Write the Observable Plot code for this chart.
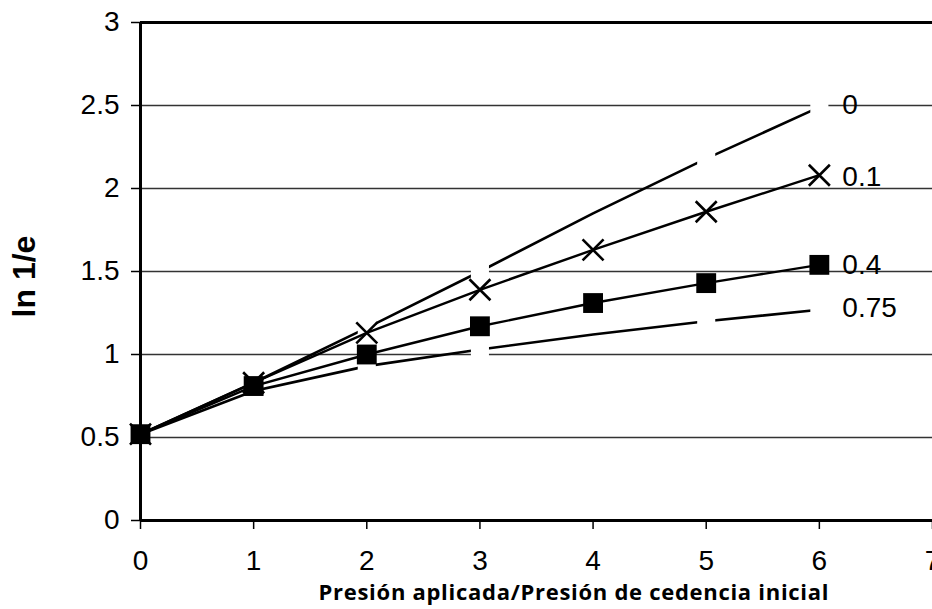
<!DOCTYPE html>
<html>
<head>
<meta charset="utf-8">
<script src="https://cdn.jsdelivr.net/npm/d3@7"></script>
<script src="https://cdn.jsdelivr.net/npm/@observablehq/plot@0.6"></script>
<style>
  html, body { margin: 0; padding: 0; background: #fff; }
</style>
</head>
<body>
<div id="chart"></div>
<script>
// ---- data ----
const xVals = [0, 1, 2, 3, 4, 5, 6];
const series0 = [0.52, 0.83, 1.16, 1.5, 1.85, 2.18, 2.49];
const series01 = [0.52, 0.83, 1.13, 1.39, 1.63, 1.86, 2.08];
const series04 = [0.52, 0.81, 1.0, 1.17, 1.31, 1.43, 1.54];
const series075 = [0.52, 0.78, 0.93, 1.03, 1.12, 1.2, 1.27];
// points where the (white, borderless) markers of the "0" and "0.75" series show as gaps
const whiteMarkerX0 = [2, 3, 5, 6];
const whiteMarkerX075 = [2, 3, 5, 6];
const seriesNames = ["0", "0.1", "0.4", "0.75"];
const labelY = [2.5, 2.07, 1.54, 1.28];
const xTicks = [0, 1, 2, 3, 4, 5, 6, 7];
const yTicks = [0, 0.5, 1, 1.5, 2, 2.5, 3];
const gridY = [0.5, 1, 1.5, 2, 2.5];
const xLabel = "Presión aplicada/Presión de cedencia inicial";
const yLabel = "ln 1/e";

const toRows = (vals) => xVals.map((x, i) => ({x, y: vals[i]}));
const d0 = toRows(series0), d01 = toRows(series01), d04 = toRows(series04), d075 = toRows(series075);
const w0 = d0.filter(d => whiteMarkerX0.includes(d.x));
const w075 = d075.filter(d => whiteMarkerX075.includes(d.x));
const labels = seriesNames.map((name, i) => ({name, y: labelY[i], x: xVals[xVals.length - 1]}));

const chart = Plot.plot({
  width: 932,
  height: 609,
  marginLeft: 140,
  marginRight: 0,
  marginTop: 22,
  marginBottom: 89,
  style: {fontFamily: "'Liberation Sans', Arial, sans-serif", background: "#fff", color: "#000"},
  x: {domain: [0, 7]},
  y: {domain: [0, 3]},
  marks: [
    Plot.ruleY(gridY, {stroke: "#333", strokeWidth: 1.3}),
    Plot.ruleY([3], {stroke: "#000", strokeWidth: 3}),
    Plot.ruleY([0], {stroke: "#000", strokeWidth: 3}),
    Plot.ruleX([0], {stroke: "#000", strokeWidth: 3}),
    Plot.axisY({ticks: yTicks, tickSize: 9, tickPadding: 12, fontSize: 28, label: null, stroke: "#000", strokeWidth: 1.5, fill: "#000", tickFormat: d => String(d)}),
    Plot.axisX({ticks: xTicks, tickSize: 9, tickPadding: 21, fontSize: 28, label: null, stroke: "#000", strokeWidth: 1.5, fill: "#000", tickFormat: d => String(d)}),
    Plot.line(d0, {x: "x", y: "y", stroke: "#000", strokeWidth: 2.6}),
    Plot.line(d075, {x: "x", y: "y", stroke: "#000", strokeWidth: 2.6}),
    Plot.dot(w0, {x: "x", y: "y", symbol: "square", r: 10.2, fill: "#fff", stroke: "none"}),
    Plot.dot(w075, {x: "x", y: "y", symbol: "square", r: 10.2, fill: "#fff", stroke: "none"}),
    Plot.line(d04, {x: "x", y: "y", stroke: "#000", strokeWidth: 2.4}),
    Plot.line(d01, {x: "x", y: "y", stroke: "#000", strokeWidth: 2.4}),
    Plot.dot(d04, {x: "x", y: "y", symbol: "square", r: 11.2, fill: "#000", stroke: "none"}),
    Plot.dot(d01, {x: "x", y: "y", symbol: "times", r: 9.6, stroke: "#000", strokeWidth: 2.6}),
    Plot.text(labels, {x: "x", y: "y", text: "name", dx: 23, textAnchor: "start", fontSize: 28, fill: "#000"}),
    Plot.text([xLabel], {frameAnchor: "bottom", dy: 79, dx: 37, fontFamily: "'Open Sans', sans-serif", fontWeight: 700, fontSize: 22, fill: "#000", className: "xlab"}),
    Plot.text([yLabel], {frameAnchor: "left", textAnchor: "middle", rotate: -90, dx: -116, dy: 5, fontWeight: 700, fontSize: 32, fill: "#000"})
  ]
});
d3.select(chart).selectAll(".xlab text").attr("textLength", 510).attr("lengthAdjust", "spacing");
document.getElementById("chart").appendChild(chart);
</script>
</body>
</html>
